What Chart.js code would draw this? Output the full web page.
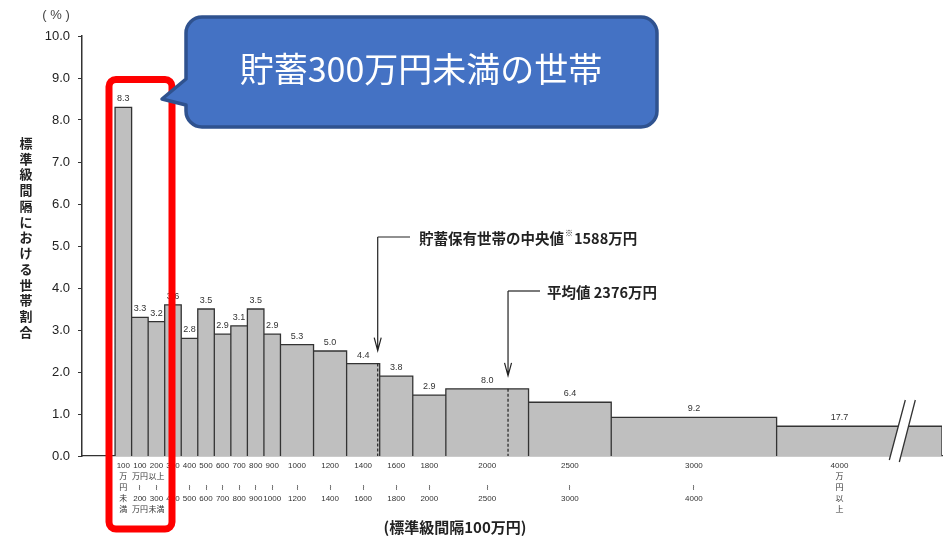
<!DOCTYPE html>
<html lang="ja">
<head>
<meta charset="utf-8">
<title>貯蓄現在高階級別世帯分布</title>
<script src="https://cdn.jsdelivr.net/npm/chart.js@4.4.1/dist/chart.umd.min.js"></script>
<style>
  html, body { margin: 0; padding: 0; background: #fff; }
</style>
</head>
<body>
<canvas id="histogram" width="946" height="536"></canvas>
<script>
// 貯蓄現在高階級 (万円)
const lowerBounds = [0, 100, 200, 300, 400, 500, 600, 700, 800, 900, 1000, 1200, 1400, 1600, 1800, 2000, 2500, 3000, 4000];
const upperBounds = [100, 200, 300, 400, 500, 600, 700, 800, 900, 1000, 1200, 1400, 1600, 1800, 2000, 2500, 3000, 4000, 5000];
// 各階級の世帯割合 (%)
const shares = [8.3, 3.3, 3.2, 3.6, 2.8, 3.5, 2.9, 3.1, 3.5, 2.9, 5.3, 5.0, 4.4, 3.8, 2.9, 8.0, 6.4, 9.2, 17.7];
// 階級の目盛ラベル
const xTickLabels = [
  ['100', '万', '円', '未', '満'],
  ['100', '万円', '≀', '200', '万円'],
  ['200', '以上', '≀', '300', '未満'],
  ['300', '', '≀', '400'],
  ['400', '', '≀', '500'],
  ['500', '', '≀', '600'],
  ['600', '', '≀', '700'],
  ['700', '', '≀', '800'],
  ['800', '', '≀', '900'],
  ['900', '', '≀', '1000'],
  ['1000', '', '≀', '1200'],
  ['1200', '', '≀', '1400'],
  ['1400', '', '≀', '1600'],
  ['1600', '', '≀', '1800'],
  ['1800', '', '≀', '2000'],
  ['2000', '', '≀', '2500'],
  ['2500', '', '≀', '3000'],
  ['3000', '', '≀', '4000'],
  ['4000', '万', '円', '以', '上']
];
const median = 1588;
const mean = 2376;
const openClassWidth = 2500;  // 4000万円以上の階級を標準級間隔に換算する幅
const breakAt = 4760;         // 省略記号の位置

const STANDARD = 100;
const last = shares.length - 1;
// 標準級間隔(100万円)あたりの割合 = 棒の高さ
const heights = shares.map((s, i) => {
  const w = i === last ? openClassWidth : upperBounds[i] - lowerBounds[i];
  return s / (w / STANDARD);
});
const centers = lowerBounds.map((lo, i) => i === last ? (lo + breakAt) / 2 : (lo + upperBounds[i]) / 2);

// ヒストグラムの外形 (各階級を 0 → 高さ → 0 でなぞる)
const outline = [];
lowerBounds.forEach((lo, i) => {
  outline.push({x: lo, y: 0}, {x: lo, y: heights[i]}, {x: upperBounds[i], y: heights[i]}, {x: upperBounds[i], y: 0});
});

function heightAt(v) {
  const i = lowerBounds.findIndex((lo, k) => v >= lo && v < upperBounds[k]);
  return heights[i];
}

const JP = '"Noto Sans CJK JP", "Liberation Sans", sans-serif';
const NUM = '"Liberation Sans", "Noto Sans CJK JP", sans-serif';

function arrowDown(ctx, px, topY, tipY) {
  ctx.beginPath();
  ctx.moveTo(px, topY);
  ctx.lineTo(px, tipY);
  ctx.moveTo(px - 3.5, tipY - 13);
  ctx.lineTo(px, tipY);
  ctx.lineTo(px + 3.5, tipY - 13);
  ctx.stroke();
}

// 角丸四角形 (左辺の下端で止める。吹き出しの尻尾を差し込むため)
function roundRectOpen(ctx, x0, y0, x1, y1, r) {
  ctx.moveTo(x0 + r, y0);
  ctx.lineTo(x1 - r, y0);
  ctx.arcTo(x1, y0, x1, y0 + r, r);
  ctx.lineTo(x1, y1 - r);
  ctx.arcTo(x1, y1, x1 - r, y1, r);
  ctx.lineTo(x0 + r, y1);
  ctx.arcTo(x0, y1, x0, y1 - r, r);
}

function closeRoundRect(ctx, x0, y0, r) {
  ctx.lineTo(x0, y0 + r);
  ctx.arcTo(x0, y0, x0 + r, y0, r);
  ctx.closePath();
}

const annotations = {
  id: 'annotations',
  afterDatasetsDraw(chart) {
    const {ctx, scales: {x, y}} = chart;
    const base = y.getPixelForValue(0);
    ctx.save();

    // 中央値・平均値の位置 (破線)
    ctx.strokeStyle = '#222';
    ctx.lineWidth = 1.2;
    ctx.setLineDash([3, 2]);
    [median, mean].forEach(v => {
      const px = x.getPixelForValue(v);
      ctx.beginPath();
      ctx.moveTo(px, y.getPixelForValue(heightAt(v)));
      ctx.lineTo(px, base);
      ctx.stroke();
    });
    ctx.setLineDash([]);

    // 棒の上の割合
    ctx.font = '9px ' + NUM;
    ctx.fillStyle = '#333';
    ctx.textAlign = 'center';
    ctx.textBaseline = 'middle';
    shares.forEach((s, i) => {
      ctx.fillText(s.toFixed(1), x.getPixelForValue(centers[i]), y.getPixelForValue(heights[i]) - 8.5);
    });

    // 省略記号 //
    const bx = x.getPixelForValue(breakAt);
    ctx.fillStyle = '#fff';
    ctx.beginPath();
    ctx.moveTo(bx - 13, base + 4);
    ctx.lineTo(bx + 3, base - 56);
    ctx.lineTo(bx + 13, base - 56);
    ctx.lineTo(bx - 3, base + 6);
    ctx.closePath();
    ctx.fill();
    ctx.strokeStyle = '#333';
    ctx.lineWidth = 1.3;
    ctx.beginPath();
    ctx.moveTo(bx - 13, base + 4);
    ctx.lineTo(bx + 3, base - 56);
    ctx.moveTo(bx - 3, base + 6);
    ctx.lineTo(bx + 13, base - 56);
    ctx.stroke();
    ctx.restore();
  },
  afterDraw(chart) {
    const {ctx, scales: {x, y}} = chart;
    ctx.save();
    ctx.fillStyle = '#222';
    ctx.strokeStyle = '#222';
    ctx.lineWidth = 1.2;

    // 単位と軸タイトル
    ctx.font = '13px ' + NUM;
    ctx.textAlign = 'center';
    ctx.textBaseline = 'middle';
    ctx.fillStyle = '#444';
    ctx.fillText('( % )', 56, 15);
    ctx.fillStyle = '#222';
    ctx.font = 'bold 13px ' + JP;
    Array.from('標準級間隔における世帯割合').forEach((ch, i) => {
      ctx.fillText(ch, 26, 143 + i * 15.75);
    });
    ctx.font = 'bold 15px ' + JP;
    ctx.fillText('(標準級間隔100万円)', 455, 527);

    // 中央値の注記
    const mx = x.getPixelForValue(median);
    arrowDown(ctx, mx, 237, y.getPixelForValue(heightAt(median)) - 13);
    ctx.beginPath();
    ctx.moveTo(mx, 237);
    ctx.lineTo(410, 237);
    ctx.stroke();
    ctx.textAlign = 'left';
    ctx.font = 'bold 14.5px ' + JP;
    let tx = 419;
    const head = '貯蓄保有世帯の中央値';
    ctx.fillText(head, tx, 238);
    tx += ctx.measureText(head).width + 1;
    ctx.font = '8px ' + JP;
    ctx.fillText('※', tx, 233);
    tx += ctx.measureText('※').width + 1;
    ctx.font = 'bold 14.5px ' + JP;
    ctx.fillText(median + '万円', tx, 238);

    // 平均値の注記
    const ax = x.getPixelForValue(mean);
    arrowDown(ctx, ax, 291, y.getPixelForValue(heightAt(mean)) - 13);
    ctx.beginPath();
    ctx.moveTo(ax, 291);
    ctx.lineTo(540, 291);
    ctx.stroke();
    ctx.fillText('平均値 ' + mean + '万円', 547, 292);

    // 300万円未満の3階級を囲む赤枠
    ctx.strokeStyle = '#ff0000';
    ctx.lineWidth = 7;
    ctx.beginPath();
    roundRectOpen(ctx, 109, 79.5, 172, 529, 7);
    closeRoundRect(ctx, 109, 79.5, 7);
    ctx.stroke();

    // 吹き出し
    ctx.beginPath();
    roundRectOpen(ctx, 186, 17, 657, 127, 16);
    ctx.lineTo(186, 105);
    ctx.lineTo(162, 99);
    ctx.lineTo(186, 79);
    closeRoundRect(ctx, 186, 17, 16);
    ctx.fillStyle = '#4472c4';
    ctx.fill();
    ctx.strokeStyle = '#2f528f';
    ctx.lineWidth = 3.5;
    ctx.lineJoin = 'round';
    ctx.stroke();
    ctx.fillStyle = '#fff';
    ctx.font = '34px ' + JP;
    ctx.textAlign = 'center';
    ctx.fillText('貯蓄300万円未満の世帯', 421, 69);
    ctx.restore();
  }
};

new Chart(document.getElementById('histogram'), {
  type: 'scatter',
  data: {
    datasets: [{
      data: outline,
      showLine: true,
      fill: 'origin',
      backgroundColor: '#bfbfbf',
      borderColor: '#333',
      borderWidth: 1.3,
      borderJoinStyle: 'miter',
      pointRadius: 0,
      pointHoverRadius: 0,
      tension: 0
    }]
  },
  options: {
    responsive: false,
    animation: false,
    layout: { padding: { top: 36, right: 4, left: 0, bottom: 0 } },
    plugins: {
      legend: { display: false },
      tooltip: { enabled: false }
    },
    scales: {
      x: {
        type: 'linear',
        min: -200,
        max: 5000,
        afterFit: s => { s.height = 80; },
        afterBuildTicks: s => { s.ticks = centers.map(v => ({value: v})); },
        grid: { display: false, drawTicks: false },
        border: { display: true, color: '#333', width: 1.3 },
        ticks: {
          autoSkip: false,
          maxRotation: 0,
          padding: 4,
          color: '#333',
          font: { size: 8, family: NUM, lineHeight: '11px' },
          callback: (v, i) => xTickLabels[i]
        }
      },
      y: {
        min: 0,
        max: 10,
        afterFit: s => { s.width = 82; },
        grid: { drawOnChartArea: false, tickLength: 4, color: '#333' },
        border: { display: true, color: '#333', width: 1.5 },
        ticks: {
          stepSize: 1,
          padding: 8,
          color: '#222',
          font: { size: 13, family: NUM },
          callback: v => v.toFixed(1)
        }
      }
    }
  },
  plugins: [annotations]
});
</script>
</body>
</html>
